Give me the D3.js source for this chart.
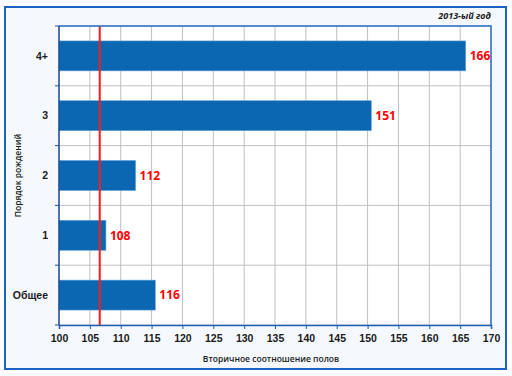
<!DOCTYPE html>
<html>
<head>
<meta charset="utf-8">
<script src="https://cdn.jsdelivr.net/npm/d3@7"></script>
<style>
  body { margin: 0; background: #fff; }
  text { font-family: "Open Sans", "DejaVu Sans", sans-serif; }
</style>
</head>
<body>
<div id="chart"></div>
<script>
// birth order categories, top to bottom
var categories = ["4+", "3", "2", "1", "Общее"];
var values = [165.9, 150.6, 112.4, 107.6, 115.6];
var labels = ["166", "151", "112", "108", "116"];
var xTicks = [100, 105, 110, 115, 120, 125, 130, 135, 140, 145, 150, 155, 160, 165, 170];
var refLine = 106.6;

var width = 512, height = 376;
var margin = {top: 26, right: 21, bottom: 51, left: 59};

var svg = d3.select("#chart").append("svg")
    .attr("width", width)
    .attr("height", height);

// outer frame
svg.append("rect")
    .attr("x", 5).attr("y", 7)
    .attr("width", 501).attr("height", 362)
    .attr("fill", "#f5f9fe")
    .attr("stroke", "#1a63c0")
    .attr("stroke-width", 2);

var x = d3.scaleLinear()
    .domain([100, 170])
    .range([margin.left, width - margin.right]);

var y = d3.scaleBand()
    .domain(categories)
    .range([margin.top, height - margin.bottom])
    .paddingInner(0.5)
    .paddingOuter(0.25);

var plotH = height - margin.bottom - margin.top;

svg.append("rect")
    .attr("x", margin.left).attr("y", margin.top)
    .attr("width", x(170) - x(100)).attr("height", plotH)
    .attr("fill", "#fff");

// vertical grid
svg.append("g")
  .selectAll("line")
  .data(xTicks)
  .enter().append("line")
    .attr("x1", function(d) { return x(d); })
    .attr("x2", function(d) { return x(d); })
    .attr("y1", margin.top)
    .attr("y2", height - margin.bottom)
    .attr("stroke", "#c0c0c0")
    .attr("stroke-width", 1);

// horizontal grid at band edges
var step = y.step();
var edges = d3.range(categories.length + 1).map(function(i) { return margin.top + i * step; });
svg.append("g")
  .selectAll("line")
  .data(edges)
  .enter().append("line")
    .attr("x1", margin.left)
    .attr("x2", width - margin.right)
    .attr("y1", function(d) { return d; })
    .attr("y2", function(d) { return d; })
    .attr("stroke", "#c0c0c0");

// bars
svg.append("g")
  .selectAll("rect")
  .data(values)
  .enter().append("rect")
    .attr("x", x(100))
    .attr("y", function(d, i) { return y(categories[i]); })
    .attr("width", function(d) { return x(d) - x(100); })
    .attr("height", y.bandwidth())
    .attr("fill", "#0b67b2")
    .attr("stroke", "#5b9bd5")
    .attr("stroke-width", 0.6);

// value labels
svg.append("g")
  .selectAll("text")
  .data(values)
  .enter().append("text")
    .attr("x", function(d) { return x(d) + 4; })
    .attr("y", function(d, i) { return y(categories[i]) + y.bandwidth() / 2; })
    .attr("dy", "0.36em")
    .attr("fill", "#ff0000")
    .style("font-size", "12px")
    .style("font-weight", "bold")
    .text(function(d, i) { return labels[i]; });

// reference line
svg.append("line")
    .attr("x1", x(refLine)).attr("x2", x(refLine))
    .attr("y1", margin.top).attr("y2", height - margin.bottom)
    .attr("stroke", "#ff1a1a")
    .attr("stroke-width", 2);

// plot frame top/right
svg.append("path")
    .attr("d", "M" + margin.left + "," + margin.top + "H" + (width - margin.right) + "V" + (height - margin.bottom))
    .attr("fill", "none")
    .attr("stroke", "#2a6fc9")
    .attr("stroke-width", 1.5);

// x axis
var xAxis = svg.append("g")
    .attr("transform", "translate(0," + (height - margin.bottom) + ")")
    .call(d3.axisBottom(x).tickValues(xTicks).tickSize(4).tickPadding(6));
xAxis.select(".domain").attr("stroke", "#1f5fb5").attr("stroke-width", 1.5);
xAxis.selectAll(".tick line").attr("stroke", "#1f5fb5");
xAxis.selectAll("text")
    .attr("fill", "#1a1a1a")
    .style("font-size", "10.5px")
    .style("font-weight", "bold")
    .style("font-family", "'Liberation Sans', sans-serif");

// y axis with ticks at band edges
var yAxis = svg.append("g")
    .attr("transform", "translate(" + margin.left + ",0)");
yAxis.append("line")
    .attr("y1", margin.top).attr("y2", height - margin.bottom)
    .attr("stroke", "#1f4f9a").attr("stroke-width", 1.5);
yAxis.selectAll(".edge")
  .data(edges)
  .enter().append("line")
    .attr("x1", -4).attr("x2", 0)
    .attr("y1", function(d) { return d; })
    .attr("y2", function(d) { return d; })
    .attr("stroke", "#1f4f9a");
yAxis.selectAll(".cat")
  .data(categories)
  .enter().append("text")
    .attr("x", -11)
    .attr("y", function(d) { return y(d) + y.bandwidth() / 2; })
    .attr("dy", "0.36em")
    .attr("text-anchor", "end")
    .attr("fill", "#1a1a1a")
    .style("font-size", "10.5px")
    .style("font-weight", "bold")
    .style("font-family", "'Liberation Sans', sans-serif")
    .text(function(d) { return d; });

// axis titles
svg.append("text")
    .attr("x", (x(100) + x(170)) / 2 - 4)
    .attr("y", 362)
    .attr("text-anchor", "middle")
    .attr("fill", "#1a1a1a")
    .style("font-size", "8.5px")
    .style("font-weight", "600")
    .text("Вторичное соотношение полов");

svg.append("text")
    .attr("transform", "translate(21," + (margin.top + plotH / 2) + ") rotate(-90)")
    .attr("text-anchor", "middle")
    .attr("fill", "#1a1a1a")
    .style("font-size", "8.5px")
    .style("font-weight", "600")
    .text("Порядок рождений");

svg.append("text")
    .attr("x", x(170))
    .attr("y", 19)
    .attr("text-anchor", "end")
    .attr("fill", "#1a1a1a")
    .style("font-size", "9px")
    .style("font-weight", "bold")
    .style("font-style", "italic")
    .text("2013-ый год");
</script>
</body>
</html>
